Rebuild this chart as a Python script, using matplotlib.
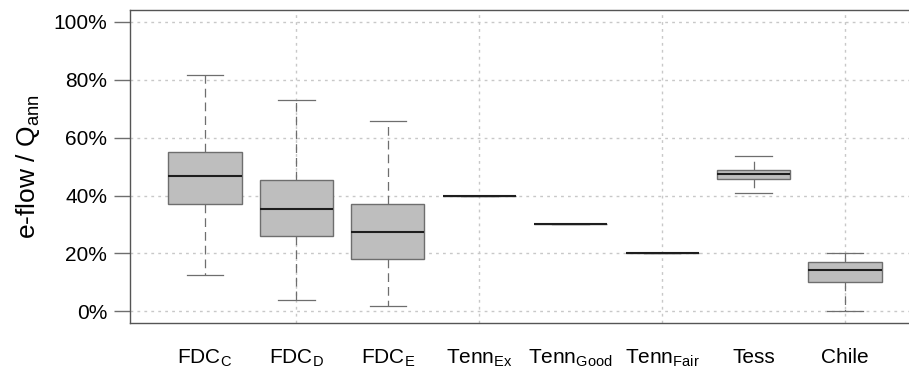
import matplotlib.pyplot as plt

plt.rcParams["font.family"] = ["Liberation Sans", "DejaVu Sans"]
plt.rcParams["mathtext.fontset"] = "custom"
plt.rcParams["mathtext.rm"] = "Liberation Sans"
plt.rcParams["mathtext.it"] = "Liberation Sans"

labels = [r"FDC$_\mathrm{C}$", r"FDC$_\mathrm{D}$", r"FDC$_\mathrm{E}$",
          r"Tenn$_\mathrm{Ex}$", r"Tenn$_\mathrm{Good}$", r"Tenn$_\mathrm{Fair}$",
          "Tess", "Chile"]
whislo = [0.124, 0.041, 0.017, 0.40, 0.30, 0.20, 0.410, 0.002]
q1 = [0.372, 0.261, 0.182, 0.40, 0.30, 0.20, 0.456, 0.102]
med = [0.466, 0.354, 0.275, 0.40, 0.30, 0.20, 0.473, 0.144]
q3 = [0.549, 0.453, 0.371, 0.40, 0.30, 0.20, 0.487, 0.171]
whishi = [0.815, 0.729, 0.658, 0.40, 0.30, 0.20, 0.536, 0.202]

stats = []
for i in range(len(labels)):
    stats.append(dict(whislo=whislo[i], q1=q1[i], med=med[i], q3=q3[i],
                      whishi=whishi[i], fliers=[]))

fig = plt.figure(figsize=(9.09, 3.69), dpi=100)
ax = fig.add_axes([0.143, 0.1247, 0.869, 0.848])

edge = "#6e6e6e"
ax.bxp(stats, positions=range(1, 9), widths=0.8, patch_artist=True,
       showfliers=False, capwidths=0.4,
       boxprops=dict(facecolor="#bebebe", edgecolor=edge, linewidth=1.0),
       medianprops=dict(color="#1e1e1e", linewidth=1.5),
       whiskerprops=dict(color=edge, linestyle=(0, (7, 4)), linewidth=0.9),
       capprops=dict(color=edge, linewidth=0.9))

ax.set_xlim(0.18, 8.82)
ax.set_ylim(-0.04, 1.04)

yt = [0, 0.2, 0.4, 0.6, 0.8, 1.0]
ax.set_yticks(yt)
ax.set_yticklabels(["0%", "20%", "40%", "60%", "80%", "100%"], fontsize=15)
ax.set_xticks(range(1, 9))
ax.set_xticklabels(labels, fontsize=15)
ax.tick_params(axis="x", length=0, pad=18)
ax.tick_params(axis="y", length=11.5, width=1.0, color=edge, pad=5)

for y in yt:
    ax.axhline(y, color="#c8c8c8", linestyle=(0, (2, 3)), linewidth=1.0, zorder=0)
for x in [2, 4, 6, 8]:
    ax.axvline(x, color="#c8c8c8", linestyle=(0, (2, 3)), linewidth=1.0, zorder=0)

for s in ["left", "top", "bottom"]:
    ax.spines[s].set_color("#555555")
    ax.spines[s].set_linewidth(1.0)
ax.spines["right"].set_visible(False)

ax.set_ylabel(r"e-flow / Q$_\mathrm{ann}$", fontsize=19, labelpad=8)

fig.savefig("out.png", dpi=100)
